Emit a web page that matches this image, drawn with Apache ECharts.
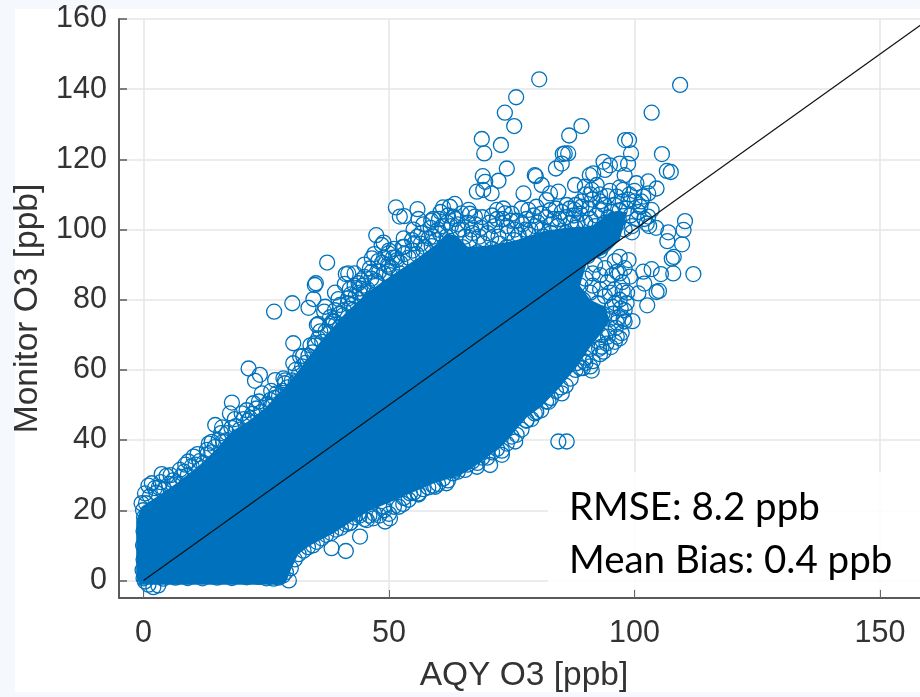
<!DOCTYPE html>
<html><head><meta charset="utf-8">
<style>html,body{margin:0;padding:0;background:#f5f9fd}#c{width:920px;height:697px}</style>
<script src="https://cdn.jsdelivr.net/npm/echarts@6/dist/echarts.min.js"></script>
</head><body><div id="c"></div>
<script>
const xTicks = [0,50,100,150];
const yTicks = [0,20,40,60,80,100,120,140,160];
const xName = 'AQY O3 [ppb]';
const yName = 'Monitor O3 [ppb]';
const statLines = ['RMSE: 8.2 ppb','Mean Bias: 0.4 ppb'];
const identityLine = [[0,0],[160,160]];

// outline of the region where the circles saturate to solid colour
const solidCore = [[-0.8,-1.2],[-1.5,1],[-1.5,17],[-0.4,21],[3.4,24.5],[7,28],[11.5,33],[14.5,37],[18,42.5],[21.5,45.5],[25,49.5],[30,57],[33,62.5],[36,68],[41,76],[45.5,82],[49,85.5],[52.2,88.5],[56,92],[59.8,96],[61.8,99],[64,98],[66,95],[71,95.5],[76,97],[81.4,99.5],[86,100.5],[91.5,101],[95,105],[98.5,105],[97,97],[94.4,93.3],[90.3,90.5],[88.9,84],[91,80],[94,78],[95,74],[93,70],[91,66.5],[89.5,63.5],[88,60.5],[84.8,55],[81,49.5],[78.1,46.5],[75,41.5],[73.2,38.5],[68.5,33.5],[64.5,30],[59,27.6],[52.2,23.5],[45.5,19.5],[38.6,13.4],[34,10],[31.5,7.5],[30,3],[29,-0.6],[27.6,-1.2]];

const outliers = [[80.6,142.8],[109.3,141.2],[75.9,137.7],[73.6,133.3],[75.5,129.5],[103.5,133.3],[89.2,129.5],[86.7,126.8],[68.9,125.8],[72.8,124.1],[69.4,121.7],[98.1,125.5],[98.9,125.5],[99.3,121.7],[105.6,121.5],[85.8,121.7],[85.4,121.5],[86.5,121.7],[85.2,118.8],[84,117.4],[74,117.4],[93.7,119.3],[95,118.3],[94,117],[97,118.8],[98.7,118.7],[106.6,116.7],[107.4,116.4],[79.7,115.5],[79.9,115.2],[69.1,115.2],[69.6,113.6],[72.3,113.9],[81.1,112.7],[98,115.5],[87.9,112.7],[90.9,115.5],[91.6,116],[102.8,113.7],[104.5,111.7],[100.4,113.2],[67.9,110.8],[69.2,111.3],[70.9,110.3],[77.4,110.3],[84.5,110.8],[82.8,110.3],[82.1,108.4],[91.3,111.3],[89.9,112.2],[92.3,112.7],[96.4,109.4],[97.7,111.3],[101.8,109.4],[102.8,110.3],[66.2,105.6],[67.5,103.7],[64.8,104.6],[73.3,106],[73.6,104.6],[72,105.6],[78.4,105.6],[86.2,107],[89.2,106.5],[87.8,105.6],[103.5,105.6],[102.8,103.7],[110.3,102.4],[110,99.9],[109.7,95.8],[106.9,99.2],[106.7,96.7],[104.4,100.5],[99.5,99.2],[102.5,101.7],[108,92.2],[107.6,91.7],[112,87.3],[107.9,87.5],[103.5,88.7],[101.8,88],[105.4,87.3],[99.1,86.6],[100.8,81.8],[105,82.5],[104.5,82.2],[102.6,78.4],[99.6,73.9],[98,73.8],[96.4,69.5],[93.3,66.6],[102,84.6],[98.8,91.3],[97,92.2],[96.4,87.9],
[26.6,76.6],[30.3,79],[33.6,77.7],[34.6,80.2],[35.1,84.7],[34.9,84.2],[37.4,90.6],[39.7,80.2],[41.2,87.3],[41.7,87.5],[36.8,76.6],[35.6,73.1],[35.3,72.8],[30.5,67.6],[34.9,67.6],[38.7,73.7],[41.7,80.4],[43.8,84.7],[44.1,83.2],[46.1,88.9],[46.5,91.8],[47.4,98.4],[48.5,95.6],[48.9,96.3],[49.9,93.2],[51.4,106.3],[52.2,103.7],[53.1,103.8],[55.8,105.8],[58.6,102.5],[61,106.3],[62.4,106.5],[63.4,107.3],[63.1,103.7],[53.1,95.1],[55.2,96.1],[57,94.2],[58.7,95.3],[51.6,91.3],[49.9,89.4],[52.2,87.5],[50.2,87],[47.5,84.7],[44.8,81.8],[42.7,77.1],[40.7,75.6],[40,72.3],[37.6,70.4],[61.7,98],[60.4,98.9],
[21.4,60.4],[23.7,58.6],[22.7,56.9],[24.1,53.3],[26.8,57.1],[28.5,57.6],[28.8,56.2],[18,50.7],[17.6,47.6],[22.4,50.5],[20,47.6],[21.7,46.2],[14.6,44.3],[16,43.6],[13.9,39.5],[12.9,37.2],[17,40],[10.2,35.3],[9.1,33.9],[7.4,31.5],[3.7,30.3],[4.7,29.8],[1.7,27.7],[2.3,26.3],[0.3,24.8],[-0.4,22],[6.1,27.2],[25.8,51.4],[27.1,53.3],[30.5,61.9],[31.9,63.8],
[38.3,9.2],[41.2,8.4],[44.1,12.5],[45.5,17.2],[46.8,17.7],[50.2,17.7],[49.2,16.8],[52.9,21.8],[56,24.8],[59.4,26.7],[61.7,27.7],[63.4,31.5],[42,16.3],[43.8,19.1],[48.9,21],[54.3,24.8],[2,-1.9],[1,-1.2],[3,-1.4],
[84.5,39.6],[86.2,39.6],[91.3,59.8],[93.7,65.2],[88.2,61.9],[89.6,62.6],[85.2,53.3],[82.5,50.9],[79.7,47.6],[78,45.7],[75.7,39.6],[73,35.8],[70.6,32.9],[67.9,32.4],[65.5,31.5]];

const upperFringe = [[0.5,22],[1.3,24],[2.6,25],[3.1,26.5],[4.2,26],[5.2,27.5],[6,28.5],[6.8,28],[7.6,29.5],[8.3,31],[9,30],[9.8,32.5],[10.6,33],[11.4,34],[12.2,33.5],[13,36],[13.8,36.5],[14.5,38],[15.3,40],[16.2,39.5],[17,42],[17.9,43.5],[18.8,44],[19.6,43],[20.4,46],[21.3,45.5],[22.2,47.5],[23,49],[24,48],[25,50],[25.9,49.5],[26.7,52],[27.6,52.5],[28.4,54],[29.3,55],[30.2,57],[31,56.5],[31.7,59],[32.3,61],[33,62],[33.6,64],[34.4,65],[35,67],[35.6,69],[36.4,68],[37.1,71],[37.9,72.5],[38.6,74],[39.2,73],[40,76],[40.8,77],[41.6,79],[42.4,78.5],[43.2,81],[44,82],[44.8,84],[45.6,83],[46.4,86],[47.2,85.5],[48,88],[49,87.5],[49.8,90],[50.6,89],[51.4,92],[52.3,90.5],[53.1,93],[54,92],[54.8,94],[55.6,93],[56.5,96],[57.3,95],[58.1,97.5],[59,98],[60,100],[60.9,101],[61.8,102],[62.6,101],[63.5,103],[64.3,100],
[1,27],[3.5,28],[5.5,30],[8.5,33],[11,36],[13.3,39],[15.8,42],[18.6,46],[21,48.5],[23.5,51],[26,54],[28.8,57],[31,60],[32.5,64],[34,67],[36,71],[38,75],[40,78.5],[42.2,81.5],[44.3,85.5],[46.5,88],[48.6,90.5],[50.8,92],[52.8,95],[54.7,97],[56.6,99],[58.5,100.5],[60.2,103],[62,104],[64,101.5],[45,86.5],[43,84],[47.8,91],[50,94],[55.8,98],[59.6,97],[42,83],[39,77],
[37,78],[39,82],[41,84.5],[43,87.5],[45,90],[47,93],[49,92],[51,94.5],[53,97.5],[55,100],[57,101.5],[59,103],[60.5,105],[56,103]];

const crestRings = [[65,100],[66,102],[66.8,100],[67.6,101.5],[68.4,98],[69.2,96],[70.1,99],[70.8,97.5],[71.5,101],[72.3,98],[73.2,103],[74,101],[74.8,102.5],[75.6,100],[76.4,98.5],[77.2,101.5],[78,103],[78.8,100],[79.5,104],[80.3,102],[81.2,100],[82,103.5],[82.8,105.5],[83.6,103],[84.4,101],[85.2,105],[86,103.5],[86.8,106],[87.6,104],[88.4,102],[89.2,108],[90,110],[90.7,106],[91.4,108.5],[92.2,104],[93,110],[93.8,107],[94.5,109.5],[95.3,105],[96,107],[96.8,103],[97.6,108],[98.4,106],[99.2,104],[100,108],[100.8,105],[101.4,108],[102,103],[103,101],[98,100],[99.5,101],[96.5,101.5],[94,102],[92,101],[90,102],[88,100.5],
[65,95],[66.5,97],[68,93.5],[69.5,92],[71,94.5],[72.5,96],[74,95],[75.5,97],[77,94.5],[78.5,98.5],[80,96],[81.5,98],[83,99],[84.5,97.5],[64.6,92],[66,90.5],[67.4,91],[86,99],[88,98],[90,96.5],
[65.5,98],[67,99],[68.8,100.5],[70.5,102],[72,103],[74.2,99],[76,102.5],[77.8,100],[79.8,101],[81,104.5],[83,101.5],[84.7,103],[87,102],[89,104.5],[91,103],[93,105.5],[94.7,103.5],[97,105.5],[98.8,108.5],[100.5,103],[66.5,104.5],[69,103.5],[71,104],[75,104.5],[77,106],[80,106.5],[84,106],[88,107],[91,110],[95,111],[99,110],[93,108],[97,112],[100,111],[101.2,106.5]];

const speckleRings = [[89,84],[90,86],[91.5,84],[93,87],[94.5,85],[96,83],[97.5,85],[89.5,80],[91,82],[92.5,79],[94,81],[95.5,78],[97,80],[98.5,82],[98,77],[96.8,75],[95,74.5],[93.5,76],[92,75],[90.5,77],[89,74],[90,71],[91.8,72],[93.2,70],[94.8,71],[96.2,72],[97.4,70.5],[96,68],[94.3,67.5],[92.6,68],[91,66],[93,64.5],[91.5,62.5],[90,63.5],[89.5,60.5],[88.5,68],[92,90],[94,89],[96,91],[98,89],[90.5,92.5],[93,94],
[96,79],[97.2,77.5],[95.6,76],[97.8,74.5],[96.4,73.5],[94.6,69.5],[97,69],[95.2,66.5],[92.8,66],[98.4,79],[97.6,82.5],[95,82],[93,83],[91.5,87.5],[95.5,87],[97,87.5]];

const lowerFringe = [[29.6,0],[30,3.5],[30.8,6],[31.6,7.5],[32.6,8.5],[33.5,9.5],[34.5,10],[35.3,11],[36.3,12],[37.2,13],[38.2,13.5],[39.2,14.5],[40.2,15],[41.2,16],[42.2,16.5],[43,18],[44,18.5],[45,17.5],[46,18.5],[47,19],[48,18.5],[49,20],[50,19],[51,21],[52,21],[53,23.5],[54,23],[55,25],[56,24.5],[57,26],[58,26.5],[59,27],[60,27.5],[61,29],[62,28.5],[63,30.5],[64,31],[65,33],[66,33],[67,34],[68,33.5],[69,35],[70,35],[71,36.5],[72,37.5],[73,37],[74,39],[75,41],[76,41.5],[77,43],[78,45.5],[79,46],[80,48],[81,48.5],[82,51],[83,52],[84,54],[85,55],[86,55.5],[87,57.5],[88,60],[89,60.5],[90,62],[91,61],
[0,0.6],[0.3,-0.3],[-0.2,3],[0,6],[-0.1,10],[0,14],[0.1,18],[-0.1,20],[4,0.5],[6.5,0.8],[9,0.7],[12,0.6],[15,0.8],[18,0.7],[21,0.9],[23.5,1],[25,0.6],[26.5,0.5],[27.5,0.8],[28.4,1.4],[29,2.4]];

const circleBlue = '#0072BD';
const ringSeries = (data) => ({
  type:'scatter', data, symbol:'circle', symbolSize:15, silent:true, z:3, animation:false, clip:true,
  itemStyle:{color:'rgba(0,0,0,0)', borderColor:circleBlue, borderWidth:1.3, opacity:1}
});
const chart = echarts.init(document.getElementById('c'), null, {renderer:'canvas'});
const axisText = {color:'#333', fontFamily:'"Liberation Sans", Arial, sans-serif'};
chart.setOption({
  animation:false,
  backgroundColor:'#f5f9fd',
  grid:{left:119, top:19, width:810, height:579, outerBoundsMode:'none'},
  xAxis:{type:'value', min:-5, max:160,
    axisLine:{onZero:false, lineStyle:{color:'#5a5a5a', width:2}},
    axisTick:{inside:true, length:8, lineStyle:{color:'#666', width:1}, customValues:xTicks},
    axisLabel:{...axisText, fontSize:30.5, margin:20, customValues:xTicks},
    splitLine:{show:true, lineStyle:{color:'#e6e6e6', width:1.5}},
    name:xName, nameLocation:'middle', nameGap:61,
    nameTextStyle:{...axisText, fontSize:33.5}},
  yAxis:{type:'value', min:-5, max:160,
    axisLine:{onZero:false, lineStyle:{color:'#5a5a5a', width:2}},
    axisTick:{inside:true, length:8, lineStyle:{color:'#5a5a5a', width:1.5}, customValues:yTicks},
    axisLabel:{...axisText, fontSize:30.5, margin:12, padding:[4,0,0,0], customValues:yTicks},
    splitLine:{show:true, lineStyle:{color:'#e6e6e6', width:1.5}},
    name:yName, nameLocation:'middle', nameGap:66, nameRotate:90,
    nameTextStyle:{...axisText, fontSize:33.5}},
  graphic:[
    {type:'rect', z:-10, silent:true, shape:{x:15,y:9,width:905,height:683}, style:{fill:'#fff'}},
    {type:'rect', z:1, silent:true, shape:{x:548,y:472,width:372,height:117}, style:{fill:'rgba(255,255,255,0.88)'}},
    {type:'text', z:10, silent:true, x:569, y:508, style:{text:statLines[0], fill:'#000', font:'38.5px Lato', verticalAlign:'middle'}},
    {type:'text', z:10, silent:true, x:569, y:561, style:{text:statLines[1], fill:'#000', font:'38.5px Lato', verticalAlign:'middle'}}
  ],
  series:[
    {type:'custom', data:solidCore, z:2, silent:true, clip:true, animation:false,
     renderItem:(p,api)=> p.dataIndex!==0 ? null : ({
       type:'polygon',
       shape:{points:solidCore.map(v=>api.coord(v))},
       style:{fill:circleBlue}
     })},
    ringSeries(outliers), ringSeries(upperFringe), ringSeries(crestRings), ringSeries(speckleRings), ringSeries(lowerFringe),
    {type:'line', data:identityLine, symbol:'none', z:5, silent:true, animation:false, lineStyle:{color:'#111', width:1.2}}
  ]
});
</script></body></html>
